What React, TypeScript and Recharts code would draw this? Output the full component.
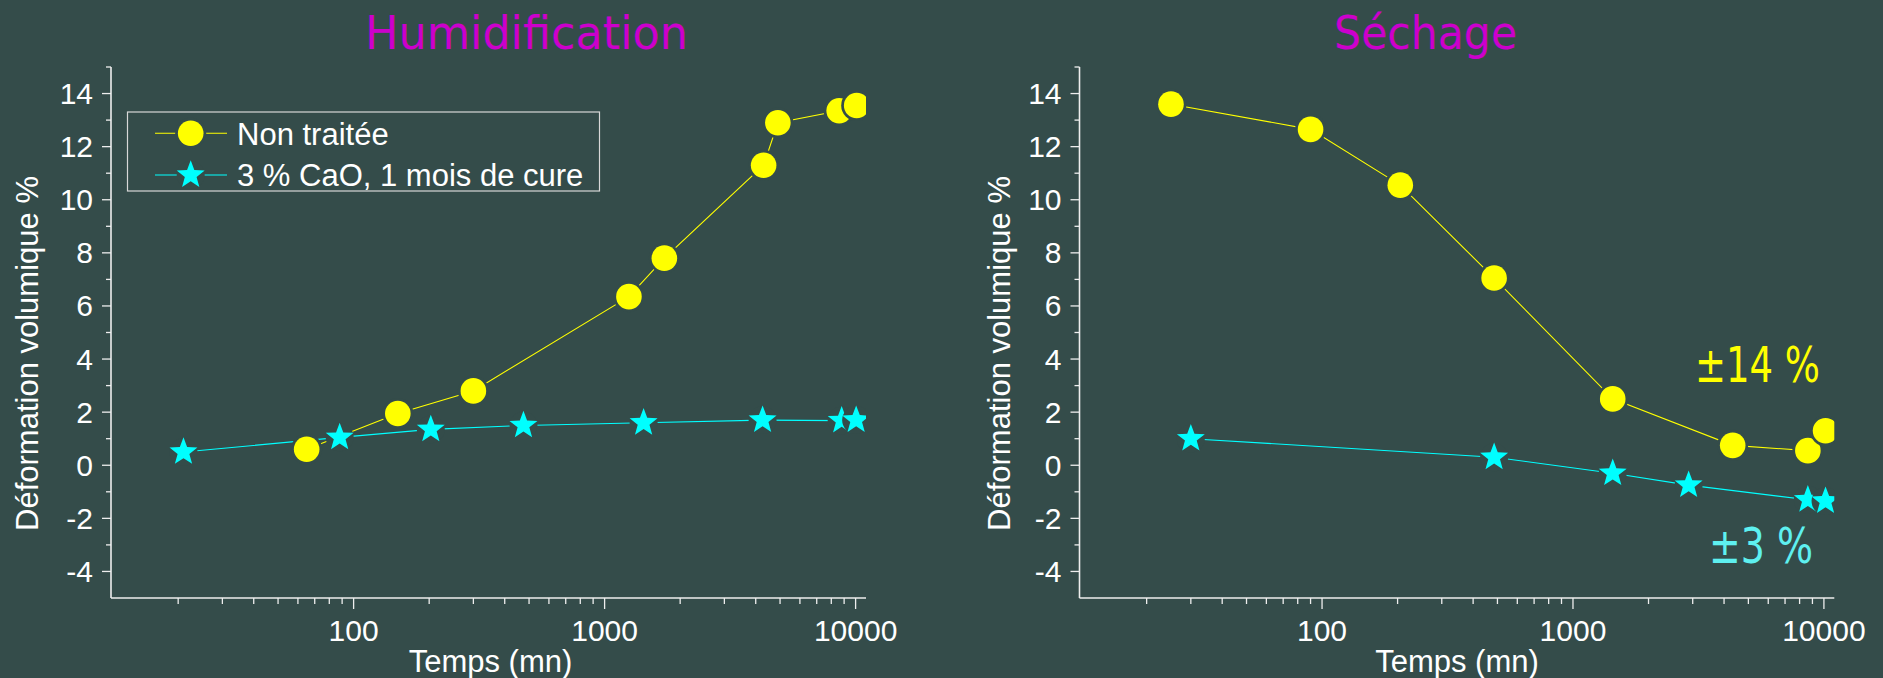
import React from 'react';
import { LineChart, Line, XAxis, YAxis } from 'recharts';

// ---------- data ----------
const humTimesNonTraitee = [65, 150, 300, 1250, 1730, 4300, 4900, 8600, 10100];
const humNonTraitee = [0.6, 1.95, 2.8, 6.35, 7.8, 11.3, 12.9, 13.35, 13.55];
const humTimesCaO = [21, 88, 203, 475, 1430, 4260, 8800, 10050];
const humCaO = [0.5, 1.05, 1.35, 1.5, 1.6, 1.7, 1.68, 1.7];

const sechTimesNonTraitee = [25, 90, 205, 485, 1440, 4330, 8630, 10150];
const sechNonTraitee = [13.6, 12.65, 10.55, 7.05, 2.5, 0.75, 0.55, 1.3];
const sechTimesCaO = [30, 485, 1440, 2890, 8630, 10150];
const sechCaO = [1.0, 0.3, -0.3, -0.75, -1.3, -1.35];

const xMajorTicks = [100, 1000, 10000];
const xMinorTicks = [20, 30, 40, 50, 60, 70, 80, 90, 200, 300, 400, 500, 600, 700, 800, 900, 2000, 3000, 4000, 5000, 6000, 7000, 8000, 9000];
const yMajorTicks = [-4, -2, 0, 2, 4, 6, 8, 10, 12, 14];
const yMinorTicks = [-3, -1, 1, 3, 5, 7, 9, 11, 13, 15];

const seriesNames = ['Non traitée', '3 % CaO, 1 mois de cure'];
const titles = ['Humidification', 'Séchage'];
const xLabel = 'Temps (mn)';
const yLabel = 'Déformation volumique %';

// ---------- style ----------
const BG = '#344c4a';
const YELLOW = '#ffff00';
const CYAN = '#00ffff';
const AXIS = '#eeeeee';
const FONT = "'Liberation Sans', Arial, sans-serif";
const TITLE_FONT = "'Comic Sans MS', 'DejaVu Sans', sans-serif";

const zip = (ts: number[], vs: number[]) => ts.map((t, i) => ({ t, v: vs[i] }));

const starPath = (cx: number, cy: number, R: number) => {
  const r = R * 0.42;
  const pts: string[] = [];
  for (let i = 0; i < 10; i++) {
    const rad = i % 2 === 0 ? R : r;
    const a = -Math.PI / 2 + (i * Math.PI) / 5;
    pts.push(`${cx + rad * Math.cos(a)},${cy + rad * Math.sin(a)}`);
  }
  return `M${pts.join('L')}Z`;
};

const CircleMark = ({ cx, cy }: { cx: number; cy: number }) => (
  <g>
    <circle cx={cx} cy={cy} r={15.5} fill={BG} />
    <circle cx={cx} cy={cy} r={12.8} fill={YELLOW} />
  </g>
);
const StarMark = ({ cx, cy }: { cx: number; cy: number }) => (
  <g>
    <circle cx={cx} cy={cy} r={14} fill={BG} />
    <path d={starPath(cx, cy, 14.7)} fill={CYAN} />
  </g>
);

const renderCircle = (p: any) => <CircleMark key={`c${p.index}`} cx={p.cx} cy={p.cy} />;
const renderStar = (p: any) => <StarMark key={`s${p.index}`} cx={p.cx} cy={p.cy} />;

const XTick = (props: any) => {
  const { x, y, payload } = props;
  const v = payload.value;
  const major = xMajorTicks.includes(v);
  return (
    <g>
      <line x1={x} x2={x} y1={y} y2={y + (major ? 11 : 6)} stroke={AXIS} strokeWidth={1.3} />
      {major && (
        <text x={x} y={y + 43} textAnchor="middle" fill="#ffffff" fontSize={30} fontFamily={FONT}>
          {v}
        </text>
      )}
    </g>
  );
};

const YTick = (props: any) => {
  const { x, y, payload } = props;
  const v = payload.value;
  const major = yMajorTicks.includes(v);
  return (
    <g>
      <line x1={x} x2={x - (major ? 9 : 5)} y1={y} y2={y} stroke={AXIS} strokeWidth={1.3} />
      {major && (
        <text x={x - 18} y={y + 10.5} textAnchor="end" fill="#ffffff" fontSize={30} fontFamily={FONT}>
          {v}
        </text>
      )}
    </g>
  );
};

const Panel = ({
  left,
  width,
  marginLeft,
  marginRight,
  yellow,
  cyan,
}: {
  left: number;
  width: number;
  marginLeft: number;
  marginRight: number;
  yellow: { t: number; v: number }[];
  cyan: { t: number; v: number }[];
}) => (
  <div style={{ position: 'absolute', left, top: 0 }}>
    <LineChart width={width} height={678} margin={{ top: 67, right: marginRight, bottom: 0, left: 0 }}>
      <XAxis
        dataKey="t"
        type="number"
        scale="log"
        domain={[10.8, 11000]}
        allowDataOverflow
        ticks={[...xMinorTicks, ...xMajorTicks]}
        interval={0}
        tick={<XTick />}
        tickLine={false}
        tickSize={0}
        tickMargin={0}
        height={80}
        axisLine={{ stroke: AXIS, strokeWidth: 1.6 }}
      />
      <YAxis
        type="number"
        domain={[-5, 15]}
        allowDataOverflow
        ticks={[...yMinorTicks, ...yMajorTicks]}
        interval={0}
        tick={<YTick />}
        tickLine={false}
        tickSize={0}
        tickMargin={0}
        width={marginLeft}
        axisLine={{ stroke: AXIS, strokeWidth: 1.6 }}
      />
      <Line
        data={yellow}
        dataKey="v"
        stroke={YELLOW}
        strokeWidth={1.1}
        dot={renderCircle}
        activeDot={false}
        isAnimationActive={false}
        name={seriesNames[0]}
      />
      <Line
        data={cyan}
        dataKey="v"
        stroke={CYAN}
        strokeWidth={1.1}
        dot={renderStar}
        activeDot={false}
        isAnimationActive={false}
        name={seriesNames[1]}
      />
    </LineChart>
  </div>
);

export default function App() {
  return (
    <div style={{ position: 'absolute', left: 0, top: 0, width: 1883, height: 678, background: BG, overflow: 'hidden' }}>
      <Panel
        left={0}
        width={940}
        marginLeft={111}
        marginRight={74}
        yellow={zip(humTimesNonTraitee, humNonTraitee)}
        cyan={zip(humTimesCaO, humCaO)}
      />
      <Panel
        left={940}
        width={943}
        marginLeft={139.5}
        marginRight={48.7}
        yellow={zip(sechTimesNonTraitee, sechNonTraitee)}
        cyan={zip(sechTimesCaO, sechCaO)}
      />
      <svg width={1883} height={678} style={{ position: 'absolute', left: 0, top: 0, pointerEvents: 'none' }}>
        {/* titles */}
        <text x={526.5} y={49} textAnchor="middle" fill="#cc00cc" fontSize={46} fontFamily={TITLE_FONT} textLength={323} lengthAdjust="spacingAndGlyphs">
          {titles[0]}
        </text>
        <text x={1425.6} y={49} textAnchor="middle" fill="#cc00cc" fontSize={46} fontFamily={TITLE_FONT} textLength={183} lengthAdjust="spacingAndGlyphs">
          {titles[1]}
        </text>
        {/* axis labels */}
        <text x={490.5} y={672} textAnchor="middle" fill="#ffffff" fontSize={31} fontFamily={FONT}>{xLabel}</text>
        <text x={1457} y={672} textAnchor="middle" fill="#ffffff" fontSize={31} fontFamily={FONT}>{xLabel}</text>
        <text transform="translate(38,353.5) rotate(-90)" textAnchor="middle" fill="#ffffff" fontSize={31} fontFamily={FONT}>{yLabel}</text>
        <text transform="translate(1010,353.5) rotate(-90)" textAnchor="middle" fill="#ffffff" fontSize={31} fontFamily={FONT}>{yLabel}</text>
        {/* legend */}
        <rect x={127.5} y={112} width={472} height={79} fill="none" stroke="#d8d8d8" strokeWidth={1.2} />
        <line x1={155} x2={227} y1={133.3} y2={133.3} stroke={YELLOW} strokeWidth={1.1} />
        <CircleMark cx={190.7} cy={133.3} />
        <text x={237} y={144.5} fill="#ffffff" fontSize={31} fontFamily={FONT}>{seriesNames[0]}</text>
        <line x1={155} x2={227} y1={175} y2={175} stroke={CYAN} strokeWidth={1.1} />
        <StarMark cx={190.7} cy={175} />
        <text x={237} y={186} fill="#ffffff" fontSize={31} fontFamily={FONT}>{seriesNames[1]}</text>
        {/* annotations */}
        <text x={1695} y={382} fill={YELLOW} fontSize={50} fontFamily={TITLE_FONT} textLength={125} lengthAdjust="spacingAndGlyphs">±14 %</text>
        <text x={1709} y={563} fill="#5ef0f0" fontSize={50} fontFamily={TITLE_FONT} textLength={104} lengthAdjust="spacingAndGlyphs">±3 %</text>
      </svg>
    </div>
  );
}
